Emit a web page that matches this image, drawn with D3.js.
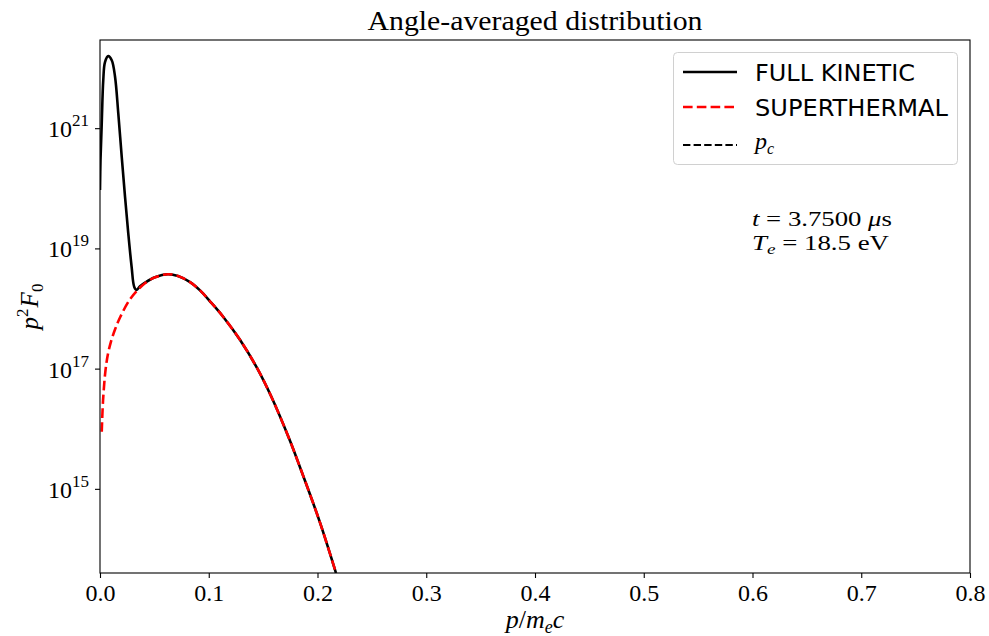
<!DOCTYPE html>
<html>
<head>
<meta charset="utf-8">
<script src="https://cdn.jsdelivr.net/npm/d3@7"></script>
<style>
  html, body { margin: 0; padding: 0; background: #fff; }
  svg { display: block; }
  .serif { font-family: "Liberation Serif", "DejaVu Serif", serif; }
</style>
</head>
<body>
<svg id="chart" width="989" height="636"></svg>
<script>
// Momentum grid (p / m_e c) and angle-averaged p^2 F0 values
const fullP = [0, 0.00046, 0.0016, 0.003, 0.0046, 0.0076, 0.0108, 0.0138, 0.0168, 0.02,
  0.023, 0.026, 0.0291, 0.0315, 0.0337, 0.0368, 0.0414, 0.0506, 0.0625, 0.0717, 0.0828,
  0.092, 0.1011, 0.1134, 0.1287, 0.1441, 0.1579, 0.1747, 0.1839, 0.2023, 0.217];
const fullKinetic = [9.33e19, 2.95e20, 1.2e21, 6.31e21, 1.26e22, 1.58e22, 1.35e22, 7.24e21, 1.78e21, 3.31e20,
  7.24e19, 1.78e19, 4.9e18, 2.29e18, 2.04e18, 2.34e18, 2.69e18, 3.31e18, 3.72e18, 3.47e18, 2.75e18,
  2.0e18, 1.32e18, 7.24e17, 3.02e17, 1.05e17, 3.31e16, 6.31e15, 2.29e15, 2.75e14, 3.98e13];

const superP = [0.0016, 0.0028, 0.0051, 0.0074, 0.0101, 0.0138, 0.0184, 0.0267, 0.0337, 0.0414,
  0.0506, 0.0625, 0.0717, 0.0828, 0.092, 0.1011, 0.1134, 0.1287, 0.1441, 0.1579, 0.1747,
  0.1839, 0.2023, 0.217];
const superthermal = [8.91e15, 2.95e16, 9.55e16, 1.78e17, 2.82e17, 4.47e17, 7.08e17, 1.35e18, 1.95e18, 2.63e18,
  3.31e18, 3.72e18, 3.47e18, 2.75e18, 2.0e18, 1.32e18, 7.24e17, 3.02e17, 1.05e17, 3.31e16, 6.31e15,
  2.29e15, 2.75e14, 3.98e13];

const xTicks = [0, 0.1, 0.2, 0.3, 0.4, 0.5, 0.6, 0.7, 0.8];
const yTickExponents = [15, 17, 19, 21];
const legendLabels = ["FULL KINETIC", "SUPERTHERMAL", "p_c"];

const svg = d3.select("#chart");
const m = { left: 100, right: 970, top: 40, bottom: 573 };

const x = d3.scaleLinear().domain([0, 0.8]).range([m.left, m.right]);
const y = d3.scaleLog().domain([Math.pow(10, 13.6), Math.pow(10, 22.467)]).range([m.bottom, m.top]);

svg.append("defs").append("clipPath").attr("id", "plotclip")
  .append("rect").attr("x", m.left).attr("y", m.top)
  .attr("width", m.right - m.left).attr("height", m.bottom - m.top);

const line = d3.line().x(d => x(d[0])).y(d => y(d[1])).curve(d3.curveCatmullRom.alpha(0.5));

const plot = svg.append("g").attr("clip-path", "url(#plotclip)");
plot.append("path")
  .attr("d", line(fullP.map((p, i) => [p, fullKinetic[i]])))
  .attr("fill", "none").attr("stroke", "#000").attr("stroke-width", 2.6)
  .attr("stroke-linejoin", "round");
plot.append("path")
  .attr("d", line(superP.map((p, i) => [p, superthermal[i]])))
  .attr("fill", "none").attr("stroke", "#ff0000").attr("stroke-width", 2.6)
  .attr("stroke-dasharray", "9.6,4.2");

// Axes
const xAxis = d3.axisBottom(x).tickValues(xTicks).tickSize(5).tickPadding(6).tickFormat(d3.format(".1f"));
const gx = svg.append("g").attr("transform", `translate(0,${m.bottom})`).call(xAxis);
gx.select(".domain").remove();
gx.selectAll("line").attr("stroke", "#000").attr("stroke-width", 1.1);
gx.selectAll("text").attr("class", "serif").attr("font-size", 24).attr("fill", "#000");

const yAxis = d3.axisLeft(y).tickValues(yTickExponents.map(e => Math.pow(10, e))).tickSize(5).tickFormat("");
const gy = svg.append("g").attr("transform", `translate(${m.left},0)`).call(yAxis);
gy.select(".domain").remove();
gy.selectAll("line").attr("stroke", "#000").attr("stroke-width", 1.1);
yTickExponents.forEach(e => {
  const t = svg.append("text").attr("class", "serif")
    .attr("x", 89).attr("y", y(Math.pow(10, e)) + 9)
    .attr("text-anchor", "end").attr("font-size", 24).attr("fill", "#000");
  t.append("tspan").text("10");
  t.append("tspan").attr("dy", -11).attr("font-size", 17).text(String(e));
});

// Frame
svg.append("rect").attr("x", m.left).attr("y", m.top)
  .attr("width", m.right - m.left).attr("height", m.bottom - m.top)
  .attr("fill", "none").attr("stroke", "#000").attr("stroke-width", 1.1);

// Title and axis labels
svg.append("text").attr("class", "serif")
  .attr("x", (m.left + m.right) / 2).attr("y", 30)
  .attr("text-anchor", "middle").attr("font-size", 28).attr("fill", "#000")
  .attr("textLength", 335).attr("lengthAdjust", "spacingAndGlyphs")
  .text("Angle-averaged distribution");

const xl = svg.append("text").attr("class", "serif")
  .attr("x", (m.left + m.right) / 2).attr("y", 628)
  .attr("text-anchor", "middle").attr("font-size", 26).attr("fill", "#000")
  .attr("font-style", "italic");
xl.append("tspan").text("p");
xl.append("tspan").attr("font-style", "normal").text("/");
xl.append("tspan").text("m");
xl.append("tspan").attr("dy", 5).attr("font-size", 18).text("e");
xl.append("tspan").attr("dy", -5).text("c");

const yl = svg.append("text").attr("class", "serif")
  .attr("transform", `translate(38,${(m.top + m.bottom) / 2}) rotate(-90)`)
  .attr("text-anchor", "middle").attr("font-size", 25).attr("fill", "#000")
  .attr("font-style", "italic");
yl.append("tspan").text("p");
yl.append("tspan").attr("dy", -10).attr("font-size", 17).attr("font-style", "normal").text("2");
yl.append("tspan").attr("dy", 10).attr("dx", 1).text("F");
yl.append("tspan").attr("dy", 5).attr("font-size", 17).attr("font-style", "normal").text("0");

// Legend
const lg = svg.append("g");
lg.append("rect").attr("x", 673.5).attr("y", 52.5).attr("width", 284).attr("height", 112)
  .attr("rx", 4).attr("fill", "#fff").attr("stroke", "#d0d0d0").attr("stroke-width", 1);
const legendRows = [
  { y: 72, stroke: "#000", dash: null, w: 2.6 },
  { y: 107, stroke: "#ff0000", dash: "9.6,4.2", w: 2.6 },
  { y: 145, stroke: "#000", dash: "7.4,3.2", w: 2 }
];
legendRows.forEach((r, i) => {
  lg.append("line").attr("x1", 683).attr("x2", 737).attr("y1", r.y).attr("y2", r.y)
    .attr("stroke", r.stroke).attr("stroke-width", r.w)
    .attr("stroke-dasharray", r.dash);
  if (i < 2) {
    lg.append("text").attr("x", 755).attr("y", r.y + 9)
      .attr("font-family", "DejaVu Sans, sans-serif").attr("font-size", 23.5).attr("fill", "#000")
      .attr("textLength", i === 0 ? 160 : 193).attr("lengthAdjust", "spacingAndGlyphs")
      .text(legendLabels[i]);
  } else {
    const [base, sub] = legendLabels[i].split("_");
    const t = lg.append("text").attr("class", "serif").attr("x", 755).attr("y", r.y + 4)
      .attr("font-size", 24).attr("font-style", "italic").attr("fill", "#000");
    t.append("tspan").text(base);
    t.append("tspan").attr("dy", 5).attr("font-size", 16).text(sub);
  }
});

// Simulation time and temperature, two stacked lines
const info1 = svg.append("text").attr("class", "serif").attr("x", 752).attr("y", 226)
  .attr("font-size", 21).attr("fill", "#000")
  .attr("textLength", 140).attr("lengthAdjust", "spacingAndGlyphs");
info1.append("tspan").attr("font-style", "italic").text("t");
info1.append("tspan").text(" = 3.7500 ");
info1.append("tspan").attr("font-style", "italic").text("μ");
info1.append("tspan").text("s");
const info2 = svg.append("text").attr("class", "serif").attr("x", 752).attr("y", 250)
  .attr("font-size", 21).attr("fill", "#000")
  .attr("textLength", 137).attr("lengthAdjust", "spacingAndGlyphs");
info2.append("tspan").attr("font-style", "italic").text("T");
info2.append("tspan").attr("dy", 4).attr("font-size", 15).attr("font-style", "italic").text("e");
info2.append("tspan").attr("dy", -4).text(" = 18.5 eV");
</script>
</body>
</html>
